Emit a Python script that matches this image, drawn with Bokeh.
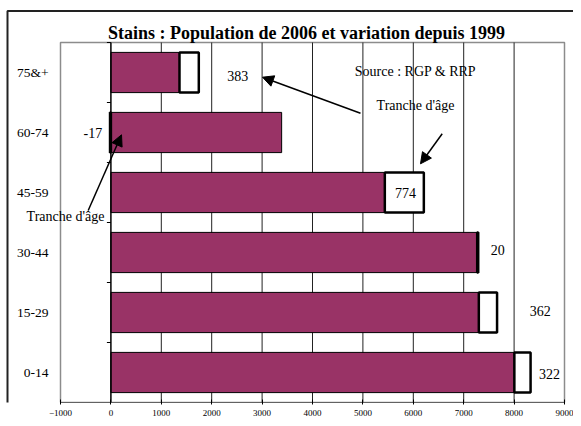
from bokeh.plotting import figure
from bokeh.models import Range1d, FixedTicker, Arrow, NormalHead
from bokeh.core.properties import value
from bokeh.embed import file_html
from bokeh.resources import INLINE

# ---- data ----
categories = ["0-14", "15-29", "30-44", "45-59", "60-74", "75&+"]
pop_1999 = [8005, 7300, 7268, 5435, 3388, 1361]
variation = [322, 362, 20, 774, -17, 383]
x_ticks = [-1000, 0, 1000, 2000, 3000, 4000, 5000, 6000, 7000, 8000, 9000]

title_text = "Stains : Population de 2006 et variation depuis 1999"
source_text = "Source : RGP & RRP"
arrow_text = "Tranche d'âge"

# ---- layout (hand-placed value labels, data units) ----
label_x = [8700, 8520, 7675, 5845, -359, 2516]
label_dy = [-0.03, 0.02, 0.045, -0.01, -0.01, -0.05]

SERIF = "Liberation Serif"
PURPLE = "#993366"

# canvas geometry (px) -> data mapping
W, H, FRAME_BOTTOM = 573, 418, 402
X_LEFT_PX, X_RIGHT_PX = 60, 564        # where x_ticks[0] and x_ticks[-1] sit
Y_TOP_PX = 42                          # top of plotting area
n = len(categories)
sx = (x_ticks[-1] - x_ticks[0]) / (X_RIGHT_PX - X_LEFT_PX)
sy = n / (FRAME_BOTTOM - Y_TOP_PX)


def dx(px):
    return x_ticks[0] + (px - X_LEFT_PX) * sx


def dy(py):
    return (FRAME_BOTTOM - py) * sy


centers = [i + 0.5 for i in range(n)]

p = figure(width=W, height=H, output_backend="svg", toolbar_location=None,
           x_range=Range1d(dx(0), dx(W)), y_range=Range1d(dy(FRAME_BOTTOM), dy(0)),
           y_axis_location=None, min_border=0,
           min_border_left=0, min_border_right=0, min_border_top=0, min_border_bottom=H - FRAME_BOTTOM)
p.background_fill_color = "white"
p.border_fill_color = "white"
p.outline_line_color = None
p.grid.grid_line_color = None

# x axis (library axis; its line is drawn below only across the plotting area)
p.xaxis.ticker = FixedTicker(ticks=x_ticks)
p.xaxis.minor_tick_line_color = None
p.xaxis.major_tick_in = 3
p.xaxis.major_tick_out = 2
p.xaxis.axis_line_color = None
p.xaxis.major_tick_line_color = "black"
p.xaxis.major_label_text_font = SERIF
p.xaxis.major_label_text_font_size = "9px"
p.xaxis.major_label_text_color = "black"
p.xaxis.major_label_standoff = 5

# plotting-area border and vertical grid
p.quad(left=x_ticks[0], right=x_ticks[-1], bottom=0, top=n, fill_color=None,
       line_color="#8c8c8c", line_width=1.5)
grid_x = [t for t in x_ticks if 0 < t < x_ticks[-1]]
p.segment(x0=grid_x, x1=grid_x, y0=[0] * len(grid_x), y1=[n] * len(grid_x),
          line_color="#222222", line_width=1)

# bars
p.hbar(y=centers, left=0, right=pop_1999, height=0.67,
       fill_color=PURPLE, line_color="black", line_width=1)
var_left = [b if v > 0 else v for b, v in zip(pop_1999, variation)]
var_right = [b + v if v > 0 else 0 for b, v in zip(pop_1999, variation)]
var_fill = ["white" if v > 0 else "black" for v in variation]
p.hbar(y=centers, left=var_left, right=var_right, height=0.67,
       fill_color=var_fill, line_color="black", line_width=2.5)

# category axis line at x = 0 with its tick marks, and x axis line
p.segment(x0=[0], x1=[0], y0=[0], y1=[n], line_color="black", line_width=1.5)
bounds = list(range(1, n + 1))
p.segment(x0=[-4 * sx] * len(bounds), x1=[0] * len(bounds), y0=bounds, y1=bounds,
          line_color="black", line_width=1)
p.segment(x0=[x_ticks[0]], x1=[x_ticks[-1]], y0=[0], y1=[0], line_color="black", line_width=1.2)

# category labels
p.text(x=[dx(48)] * n, y=centers, text=categories, text_font=value(SERIF),
       text_font_size="13.5px", text_color="black", text_align="right", text_baseline="middle")

# value labels
p.text(x=label_x, y=[c + d for c, d in zip(centers, label_dy)], text=[str(v) for v in variation],
       text_font=value(SERIF), text_font_size="14px", text_color="black",
       text_align="center", text_baseline="middle")

# title and notes
p.text(x=[dx(306)], y=[dy(32)], text=[title_text], text_font=value(SERIF), text_font_size="18px",
       text_font_style="bold", text_color="black", text_align="center", text_baseline="middle")
p.text(x=[dx(415), dx(415), dx(65)], y=[dy(71), dy(105), dy(215.5)],
       text=[source_text, arrow_text, arrow_text], text_font=value(SERIF), text_font_size="14px",
       text_color="black", text_align="center", text_baseline="middle")

for (x1, y1), (x2, y2) in [((360, 112.7), (262, 76.7)), ((441.7, 133.3), (420, 163.3)),
                           ((87.7, 210), (121, 134.3))]:
    p.add_layout(Arrow(end=NormalHead(size=11, fill_color="black", line_color="black"),
                       x_start=dx(x1), y_start=dy(y1), x_end=dx(x2), y_end=dy(y2),
                       line_color="black", line_width=1.5))

# outer chart border (left and top edges visible)
p.line(x=[dx(7), dx(7), dx(W + 50)], y=[dy(H + 50), dy(10.5), dy(10.5)],
       line_color="#222222", line_width=2)

open("out.html", "w").write(file_html(p, INLINE))
